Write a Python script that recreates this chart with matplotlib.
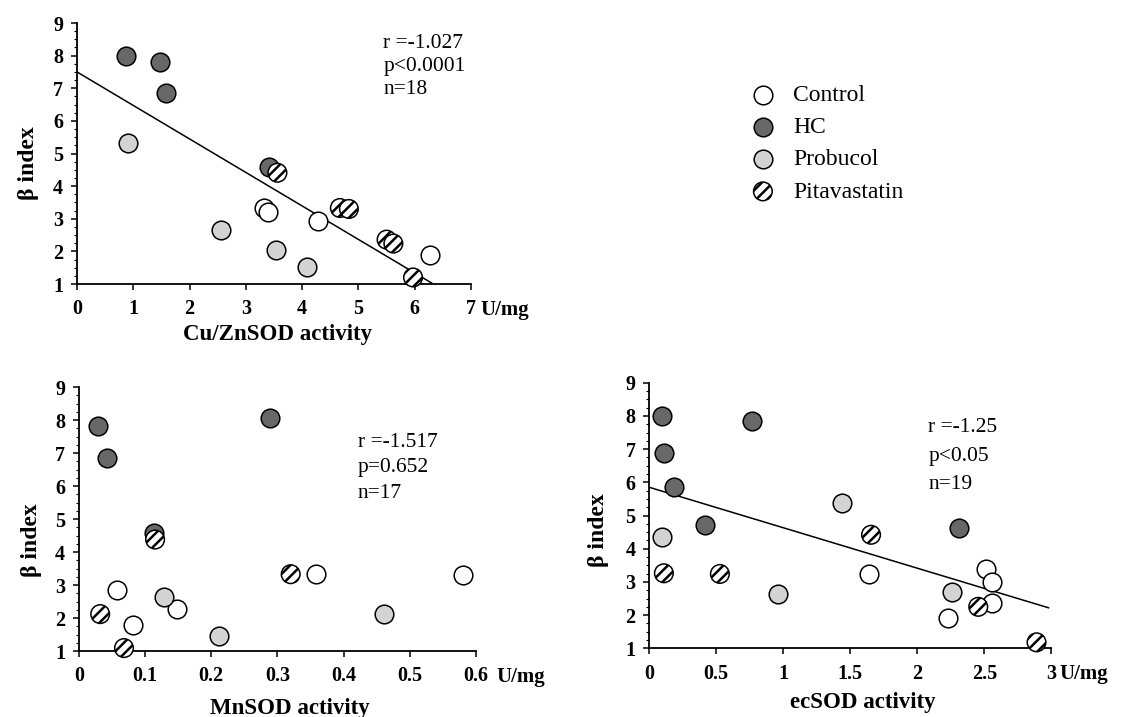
import matplotlib
matplotlib.use("Agg")
import matplotlib.pyplot as plt
from matplotlib.ticker import MultipleLocator

plt.rcParams["font.family"] = ["Liberation Serif", "DejaVu Serif"]
plt.rcParams["hatch.linewidth"] = 1.8

groups = ["Control", "HC", "Probucol", "Pitavastatin"]

# Cu/ZnSOD activity vs beta index
cuzn_control_x = [3.32, 3.40, 4.28, 6.27]
cuzn_control_y = [3.34, 3.22, 2.92, 1.88]
cuzn_hc_x = [0.87, 1.48, 1.58, 3.41]
cuzn_hc_y = [8.0, 7.82, 6.86, 4.59]
cuzn_prob_x = [0.90, 2.55, 3.53, 4.08]
cuzn_prob_y = [5.31, 2.65, 2.04, 1.53]
cuzn_pita_x = [3.56, 4.67, 4.83, 5.50, 5.62, 5.97]
cuzn_pita_y = [4.41, 3.33, 3.30, 2.36, 2.24, 1.20]
cuzn_line_x = [0, 6.3]
cuzn_line_y = [7.5, 1.03]

# MnSOD activity vs beta index
mn_control_x = [0.057, 0.082, 0.148, 0.359, 0.580]
mn_control_y = [2.86, 1.80, 2.27, 3.33, 3.30]
mn_hc_x = [0.029, 0.043, 0.114, 0.289]
mn_hc_y = [7.81, 6.85, 4.58, 8.08]
mn_prob_x = [0.129, 0.211, 0.461]
mn_prob_y = [2.65, 1.46, 2.12]
mn_pita_x = [0.032, 0.068, 0.115, 0.320]
mn_pita_y = [2.12, 1.09, 4.38, 3.33]

# ecSOD activity vs beta index
ec_control_x = [1.64, 2.23, 2.51, 2.56, 2.56]
ec_control_y = [3.24, 1.90, 3.38, 3.00, 2.37]
ec_hc_x = [0.092, 0.109, 0.184, 0.415, 0.764, 2.31]
ec_hc_y = [8.01, 6.87, 5.85, 4.71, 7.85, 4.61]
ec_prob_x = [0.092, 0.963, 1.44, 2.26]
ec_prob_y = [4.36, 2.64, 5.37, 2.69]
ec_pita_x = [0.109, 0.527, 1.655, 2.455, 2.89]
ec_pita_y = [3.26, 3.24, 4.42, 2.25, 1.18]
ec_line_x = [0, 2.98]
ec_line_y = [5.85, 2.22]

yticks = [1, 2, 3, 4, 5, 6, 7, 8, 9]
cuzn_xticks = [0, 1, 2, 3, 4, 5, 6, 7]
cuzn_xticklabels = ["0", "1", "2", "3", "4", "5", "6", "7"]
mn_xticks = [0, 0.1, 0.2, 0.3, 0.4, 0.5, 0.6]
mn_xticklabels = ["0", "0.1", "0.2", "0.3", "0.4", "0.5", "0.6"]
ec_xticks = [0, 0.5, 1, 1.5, 2, 2.5, 3]
ec_xticklabels = ["0", "0.5", "1", "1.5", "2", "2.5", "3"]

cuzn_stats = ["r =-1.027", "p<0.0001", "n=18"]
mn_stats = ["r =-1.517", "p=0.652", "n=17"]
ec_stats = ["r =-1.25", "p<0.05", "n=19"]

styles = {
    "Control": dict(facecolor="white", hatch=None),
    "HC": dict(facecolor="#686868", hatch=None),
    "Probucol": dict(facecolor="#d3d3d3", hatch=None),
    "Pitavastatin": dict(facecolor="white", hatch="///"),
}


def draw(ax, xs, ys):
    handles = []
    for g, x, y in zip(groups, xs, ys):
        st = styles[g]
        h = ax.scatter(x, y, s=180, facecolor=st["facecolor"], edgecolor="black",
                       linewidths=1.1, hatch=st["hatch"], label=g,
                       clip_on=False, zorder=3)
        handles.append(h)
    return handles


def style(ax, xmax, xticks, xticklabels, xlabel, xlab_pos, ylab_pos, unit_dx, stats, stats_pos):
    ax.set_xlim(0, xmax)
    ax.set_ylim(1, 9)
    ax.spines["top"].set_visible(False)
    ax.spines["right"].set_visible(False)
    ax.spines["left"].set_linewidth(1.3)
    ax.spines["bottom"].set_linewidth(1.3)
    ax.set_xticks(xticks)
    ax.set_xticklabels(xticklabels, fontweight="bold", fontsize=14.5)
    ax.set_yticks(yticks)
    ax.set_yticklabels([str(v) for v in yticks], fontweight="bold", fontsize=14.5)
    ax.yaxis.set_minor_locator(MultipleLocator(0.25))
    ax.tick_params(axis="x", direction="out", length=4, width=1.1, pad=7)
    ax.tick_params(axis="y", which="major", direction="out", length=4, width=1.1, pad=6)
    ax.tick_params(axis="y", which="minor", direction="out", length=2, width=0.8)
    ax.set_xlabel(xlabel, fontweight="bold", fontsize=16.5)
    ax.xaxis.set_label_coords(*xlab_pos)
    ax.set_ylabel("β index", fontweight="bold", fontsize=17)
    ax.yaxis.set_label_coords(*ylab_pos)
    ax.annotate("U/mg", xy=(xmax, 0), xycoords=("data", "axes fraction"),
                xytext=(unit_dx, -18.5), textcoords="offset points",
                ha="left", va="center", fontweight="bold", fontsize=15)
    sx, sy, dy = stats_pos
    for i, s in enumerate(stats):
        ax.text(sx, sy - i * dy, s, transform=ax.transAxes, ha="left",
                va="center", fontsize=15.5)


fig = plt.figure(figsize=(11.21, 7.17), dpi=100)
ax1 = fig.add_axes([0.0687, 0.6039, 0.3515, 0.364])
ax2 = fig.add_axes([0.0705, 0.092, 0.354, 0.368])
ax3 = fig.add_axes([0.5792, 0.0958, 0.3586, 0.3704])

handles = draw(ax1, [cuzn_control_x, cuzn_hc_x, cuzn_prob_x, cuzn_pita_x],
               [cuzn_control_y, cuzn_hc_y, cuzn_prob_y, cuzn_pita_y])
ax1.plot(cuzn_line_x, cuzn_line_y, color="black", lw=1.1, zorder=2)
style(ax1, 7, cuzn_xticks, cuzn_xticklabels, "Cu/ZnSOD activity",
      (0.508, -0.152), (-0.097, 0.464), 6.5, cuzn_stats, (0.777, 0.923, 0.089))

draw(ax2, [mn_control_x, mn_hc_x, mn_prob_x, mn_pita_x],
     [mn_control_y, mn_hc_y, mn_prob_y, mn_pita_y])
style(ax2, 0.6, mn_xticks, mn_xticklabels, "MnSOD activity",
      (0.531, -0.178), (-0.094, 0.42), 15, mn_stats, (0.703, 0.792, 0.097))

draw(ax3, [ec_control_x, ec_hc_x, ec_prob_x, ec_pita_x],
     [ec_control_y, ec_hc_y, ec_prob_y, ec_pita_y])
ax3.plot(ec_line_x, ec_line_y, color="black", lw=1.1, zorder=2)
style(ax3, 3, ec_xticks, ec_xticklabels, "ecSOD activity",
      (0.53, -0.166), (-0.100, 0.445), 6, ec_stats, (0.694, 0.830, 0.107))

fig.legend(handles, groups, loc="upper left", bbox_to_anchor=(0.670, 0.882),
           frameon=False, fontsize=17, handlelength=1.0, handletextpad=0.78,
           labelspacing=0.45, borderpad=0, borderaxespad=0, scatterpoints=1)

fig.savefig("out.png", dpi=100)
